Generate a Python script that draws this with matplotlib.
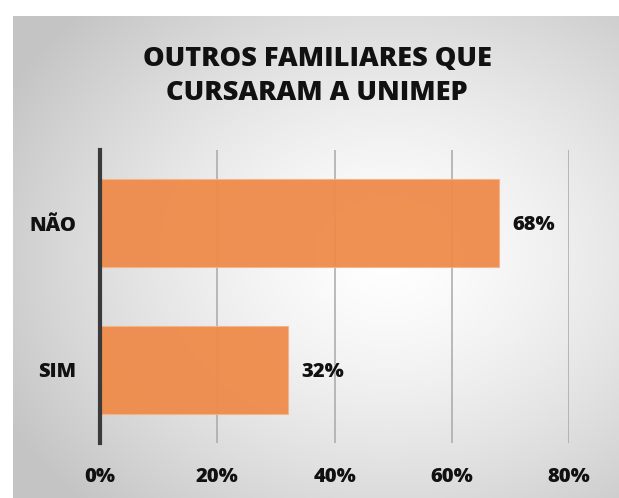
import numpy as np
import matplotlib.pyplot as plt

categorias = ["SIM", "NÃO"]
valores = [0.32, 0.68]
ticks_x = [0, 0.2, 0.4, 0.6, 0.8]
rotulos_x = ["0%", "20%", "40%", "60%", "80%"]
titulo = "OUTROS FAMILIARES QUE\nCURSARAM A UNIMEP"

plt.rcParams['font.family'] = ['Open Sans', 'DejaVu Sans']

W, H = 619, 498
fig = plt.figure(figsize=(W/100, H/100), dpi=100)
fig.patch.set_facecolor('white')

# fundo com degradê radial
fundo = fig.add_axes([13/W, 0, (W-13)/W, (H-16)/H])
fundo.set_axis_off()
ny, nx = 300, 400
yy, xx = np.mgrid[0:1:ny*1j, 0:1:nx*1j]
r = np.sqrt(((xx-0.62)/0.72)**2 + ((yy-0.5)/0.72)**2)
r = np.clip(r, 0, 1)
cinza = 1.0 - 0.23*r**1.4
fundo.imshow(np.dstack([cinza]*3), extent=[0, 1, 0, 1], aspect='auto',
             origin='upper', interpolation='bilinear')
fundo.set_xlim(0, 1)
fundo.set_ylim(0, 1)

ax = fig.add_axes([100/W, 1-443/H, 469/W, 293/H])
ax.patch.set_alpha(0)

pos = np.arange(len(categorias))
ax.barh(pos, valores, height=0.6, color='#EE8B4A', alpha=0.95,
        edgecolor='#F5B48A', linewidth=0.8, zorder=2)
for p, v in zip(pos, valores):
    ax.text(v + 0.023, p - 0.015, f"{v*100:.0f}%", va='center', ha='left',
            fontsize=14.5, fontweight='heavy', color='#111111')

ax.set_xlim(0, 0.8)
ax.set_ylim(-0.5, 1.5)
ax.set_xticks(ticks_x)
ax.set_xticklabels(rotulos_x)
ax.set_yticks(pos)
ax.set_yticklabels(categorias)
for lbl in ax.get_xticklabels() + ax.get_yticklabels():
    lbl.set_fontsize(14.5)
    lbl.set_fontweight('heavy')
    lbl.set_color('#111111')
ax.tick_params(axis='x', length=0, pad=17)
ax.tick_params(axis='y', length=0, pad=17)
ax.grid(axis='x', color='#a8a8a8', linewidth=1.1, zorder=0)
ax.set_axisbelow(True)
for s in ['top', 'right', 'bottom']:
    ax.spines[s].set_visible(False)
ax.spines['left'].set_color('#3a3a3a')
ax.spines['left'].set_linewidth(3)
ax.spines['left'].set_zorder(3)

fig.text(317/W, 1-76/H, titulo, ha='center', va='center', fontsize=19.5,
         fontweight='heavy', color='#111111', linespacing=1.35)

fig.savefig('out.png', dpi=100)
